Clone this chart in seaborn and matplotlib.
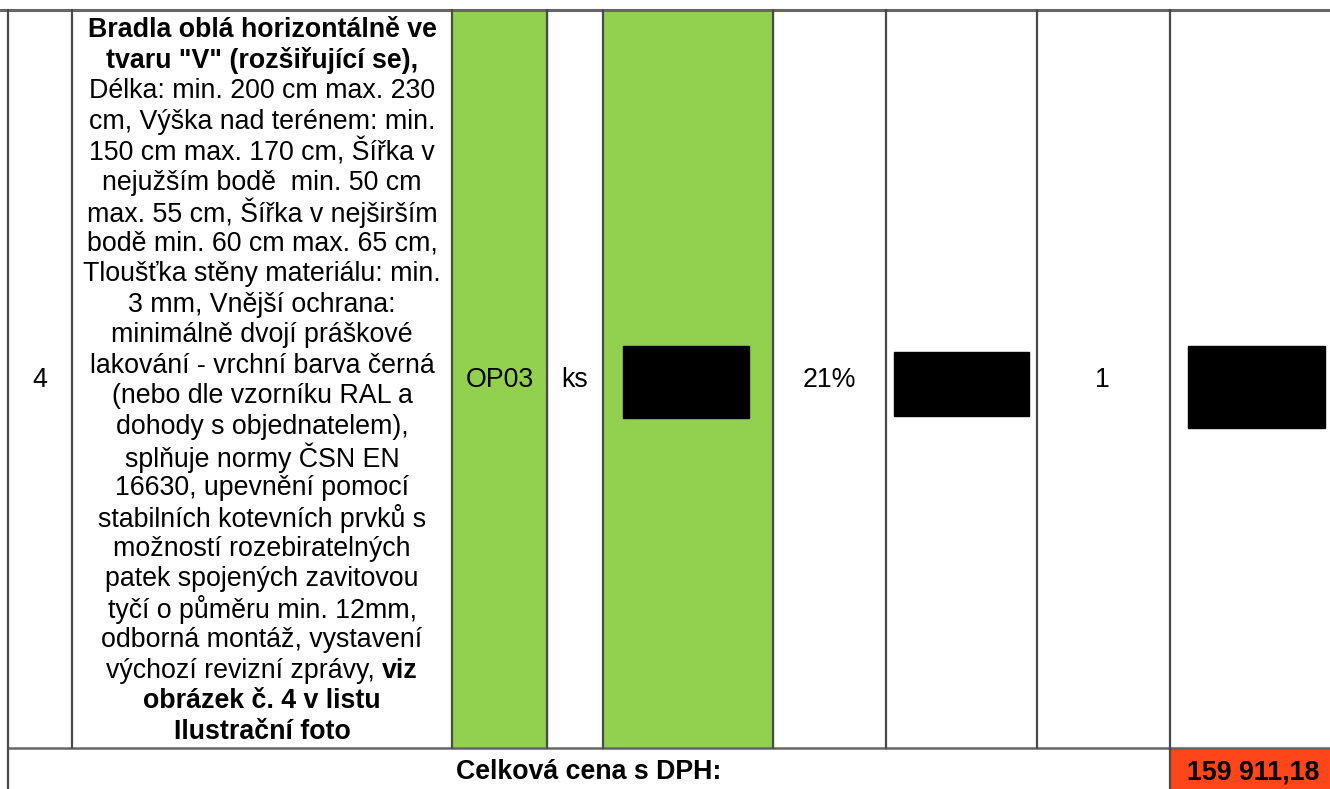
import matplotlib
matplotlib.use("Agg")
import matplotlib.pyplot as plt
import seaborn as sns
from matplotlib.patches import Rectangle

# ---- data ----
row_number = "4"
desc_lines = [
    "Bradla oblá horizontálně ve",
    "tvaru \"V\" (rozšiřující se),",
    "Délka: min. 200 cm max. 230",
    "cm, Výška nad terénem: min.",
    "150 cm max. 170 cm, Šířka v",
    "nejužším bodě  min. 50 cm",
    "max. 55 cm, Šířka v nejširším",
    "bodě min. 60 cm max. 65 cm,",
    "Tloušťka stěny materiálu: min.",
    "3 mm, Vnější ochrana:",
    "minimálně dvojí práškové",
    "lakování - vrchní barva černá",
    "(nebo dle vzorníku RAL a",
    "dohody s objednatelem),",
    "splňuje normy ČSN EN",
    "16630, upevnění pomocí",
    "stabilních kotevních prvků s",
    "možností rozebiratelných",
    "patek spojených zavitovou",
    "tyčí o půměru min. 12mm,",
    "odborná montáž, vystavení",
    "výchozí revizní zprávy, |viz",
    "obrázek č. 4 v listu",
    "Ilustrační foto",
]
bold_lines = [0, 1, 22, 23]
item_code = "OP03"
unit = "ks"
vat_rate = "21%"
quantity = "1"
total_label = "Celková cena s DPH:"
total_value = "159 911,18"

# ---- layout ----
W, H = 1330, 789
sns.set_theme(style="white")
plt.rcParams['font.family'] = ['Liberation Sans', 'DejaVu Sans']
plt.rcParams['text.color'] = 'black'
fig = plt.figure(figsize=(W / 100, H / 100), dpi=100)
ax = fig.add_axes([0, 0, 1, 1])
ax.set_xlim(0, W)
ax.set_ylim(H, 0)
ax.axis("off")

top, row_bot = 10, 748
cols = [8, 72, 452, 547, 603, 773, 886, 1037, 1170, 1345]
green = "#92D050"
line_c = "#4a4a4a"
fs = 19.3

# cell fills
ax.add_patch(Rectangle((cols[2], top), cols[3] - cols[2], row_bot - top, color=green, zorder=1))
ax.add_patch(Rectangle((cols[4], top), cols[5] - cols[4], row_bot - top, color=green, zorder=1))
ax.add_patch(Rectangle((cols[8], row_bot), W - cols[8], H - row_bot, color="#FF461A", zorder=1))

# redacted boxes
ax.add_patch(Rectangle((623, 346), 126, 72, color="black", zorder=3))
ax.add_patch(Rectangle((894, 352), 135, 64, color="black", zorder=3))
ax.add_patch(Rectangle((1188, 346), 137, 82, color="black", zorder=3))

# grid lines
ax.plot([0, W], [top, top], color="#666666", lw=2.2, zorder=4)
ax.plot([cols[0], W], [row_bot, row_bot], color="#666666", lw=1.8, zorder=4)
for x in cols[:-1]:
    ax.plot([x, x], [top, row_bot], color=line_c, lw=1.6, zorder=4)
ax.plot([cols[0], cols[0]], [row_bot, H], color=line_c, lw=1.6, zorder=4)
ax.plot([cols[8], cols[8]], [row_bot, H], color=line_c, lw=1.6, zorder=4)

# description text
cx = (cols[1] + cols[2]) / 2
y0, y1 = 30, 732
step = (y1 - y0) / (len(desc_lines) - 1)
fig.canvas.draw()
renderer = fig.canvas.get_renderer()
for i, line in enumerate(desc_lines):
    y = y0 + i * step
    if "|" in line:
        reg, bld = line.split("|")
        t1 = ax.text(0, y, reg, fontsize=fs, va="center", ha="left", zorder=5)
        t2 = ax.text(0, y, bld, fontsize=fs, va="center", ha="left", weight="bold", zorder=5)
        w1 = t1.get_window_extent(renderer).width
        w2 = t2.get_window_extent(renderer).width
        start = cx - (w1 + w2) / 2
        t1.set_x(start)
        t2.set_x(start + w1)
    else:
        ax.text(cx, y, line, fontsize=fs, va="center", ha="center",
                weight="bold" if i in bold_lines else "normal", zorder=5)

ymid = 380
ax.text((cols[0] + cols[1]) / 2, ymid, row_number, fontsize=fs, va="center", ha="center", zorder=5)
ax.text((cols[2] + cols[3]) / 2, ymid, item_code, fontsize=fs, va="center", ha="center", zorder=5)
ax.text((cols[3] + cols[4]) / 2, ymid, unit, fontsize=fs, va="center", ha="center", zorder=5)
ax.text((cols[5] + cols[6]) / 2, ymid, vat_rate, fontsize=fs, va="center", ha="center", zorder=5)
ax.text((cols[7] + cols[8]) / 2 - 1, ymid, quantity, fontsize=fs, va="center", ha="center", zorder=5)
ax.text(589, 772, total_label, fontsize=fs, va="center", ha="center", weight="bold", zorder=5)
ax.text(1253, 772, total_value, fontsize=fs, va="center", ha="center", weight="bold", zorder=5)

fig.savefig("out.png", dpi=100)
